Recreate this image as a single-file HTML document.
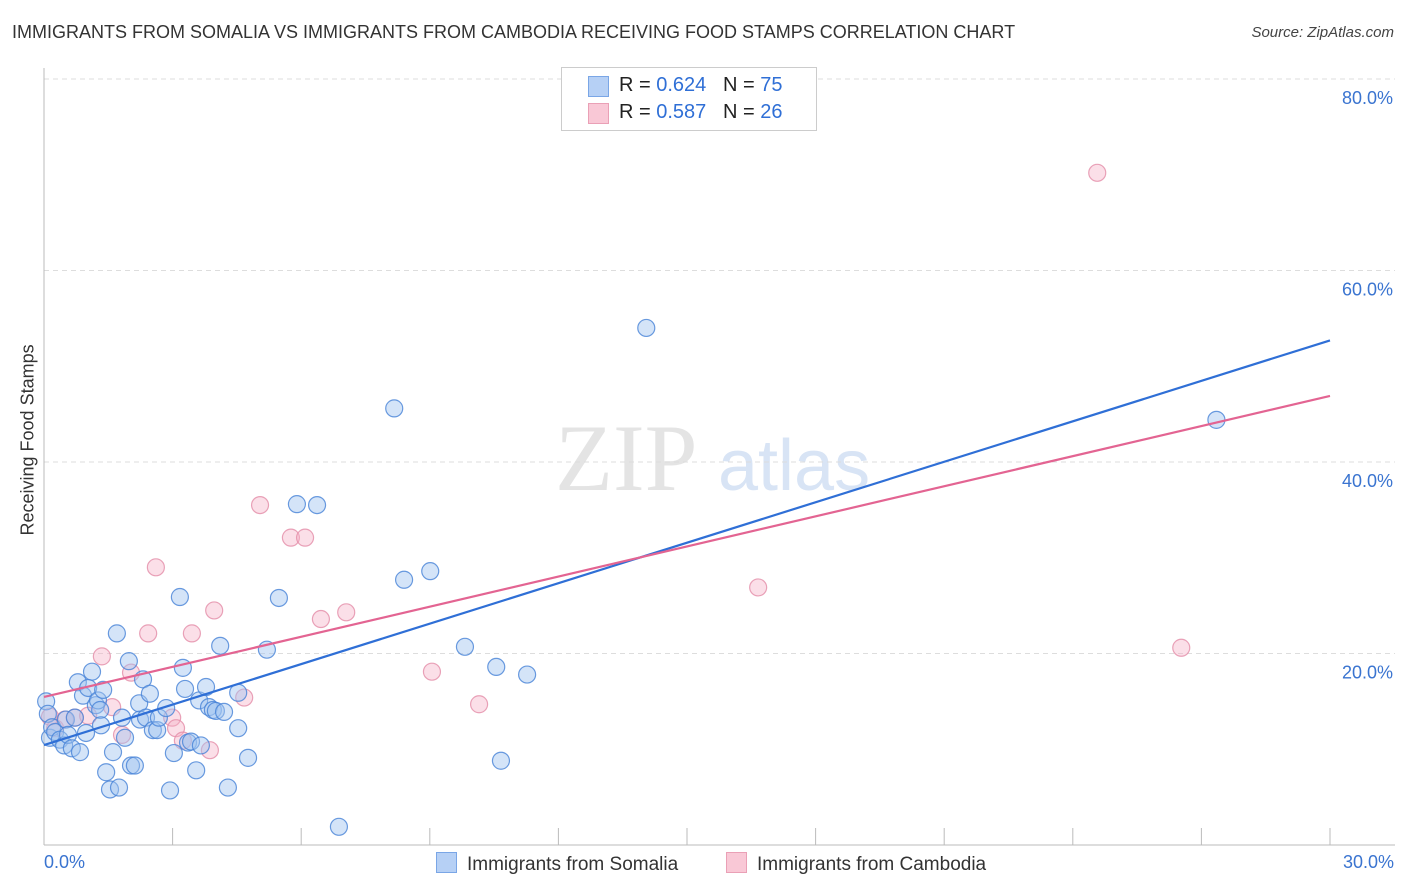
<!DOCTYPE html>
<html><head><meta charset="utf-8"><style>
body{margin:0;background:#fff;font-family:"Liberation Sans",sans-serif;}
#wrap{position:relative;width:1406px;height:892px;overflow:hidden;}
.t{position:absolute;white-space:nowrap;}
</style></head><body>
<div id="wrap">
<div class="t" style="left:12px;top:22px;font-size:18px;color:#333;">IMMIGRANTS FROM SOMALIA VS IMMIGRANTS FROM CAMBODIA RECEIVING FOOD STAMPS CORRELATION CHART</div>
<div class="t" style="right:12px;top:24px;font-size:15px;color:#444;font-style:italic;">Source: ZipAtlas.com</div>
<div class="t" style="left:-52px;top:445px;font-size:18px;color:#333;transform:rotate(-90deg);width:160px;text-align:center;">Receiving Food Stamps</div>
<svg id="svg" width="1406" height="892" style="position:absolute;left:0;top:0;"></svg>
<div class="t" style="left:561px;top:67px;width:254px;height:62px;border:1px solid #ccc;background:#fff;">
 <div style="position:absolute;left:26px;top:8px;width:19px;height:19px;background:#b6d0f5;border:1px solid #7aa6e6;"></div>
 <div style="position:absolute;left:57px;top:6px;font-size:20px;color:#222;">R = <span style="color:#2f6fd6">0.624</span>&nbsp;&nbsp;&nbsp;N = <span style="color:#2f6fd6">75</span></div>
 <div style="position:absolute;left:26px;top:35px;width:19px;height:19px;background:#f9c8d6;border:1px solid #eaa0b6;"></div>
 <div style="position:absolute;left:57px;top:33px;font-size:20px;color:#222;">R = <span style="color:#2f6fd6">0.587</span>&nbsp;&nbsp;&nbsp;N = <span style="color:#2f6fd6">26</span></div>
</div>
<div class="t" style="left:44px;top:852px;font-size:18px;color:#3a74d0;">0.0%</div>
<div class="t" style="right:12px;top:852px;font-size:18px;color:#3a74d0;">30.0%</div>
<div class="t" style="left:436px;top:852px;font-size:19px;color:#333;"><span style="display:inline-block;width:19px;height:19px;background:#b6d0f5;border:1px solid #7aa6e6;vertical-align:-3px;margin-right:10px;"></span>Immigrants from Somalia</div>
<div class="t" style="left:726px;top:852px;font-size:19px;color:#333;"><span style="display:inline-block;width:19px;height:19px;background:#f9c8d6;border:1px solid #eaa0b6;vertical-align:-3px;margin-right:10px;"></span>Immigrants from Cambodia</div>
</div>
<script>
const yTicks=[20,40,60,80];
const yTickLabels=["20.0%","40.0%","60.0%","80.0%"];
const xTicks=[0,3,6,9,12,15,18,21,24,27,30];
const somaliaX=[0.05,0.09,0.14,0.19,0.26,0.37,0.47,0.51,0.56,0.65,0.72,0.79,0.84,0.91,0.98,1.03,1.12,1.21,1.26,1.31,1.33,1.38,1.45,1.54,1.61,1.70,1.75,1.82,1.89,1.98,2.03,2.12,2.22,2.24,2.31,2.38,2.47,2.54,2.64,2.68,2.85,2.94,3.03,3.17,3.24,3.29,3.36,3.43,3.55,3.62,3.66,3.78,3.85,3.94,4.01,4.11,4.20,4.29,4.53,4.53,4.76,5.20,5.48,5.90,6.37,6.88,8.17,8.40,9.01,9.82,10.55,10.66,11.27,14.05,27.35];
const somaliaY=[15.0,13.7,11.2,12.3,11.8,11.0,10.4,13.1,11.5,10.1,13.3,17.0,9.7,15.6,11.7,16.4,18.1,14.6,15.1,14.1,12.5,16.2,7.6,5.8,9.7,22.1,6.0,13.3,11.2,19.2,8.3,8.3,14.8,13.1,17.3,13.3,15.8,12.0,12.0,13.3,14.3,5.7,9.6,25.9,18.5,16.3,10.7,10.8,7.8,15.1,10.4,16.5,14.4,14.1,14.0,20.8,13.9,6.0,15.9,12.2,9.1,20.4,25.8,35.6,35.5,1.9,45.6,27.7,28.6,20.7,18.6,8.8,17.8,54.0,44.4];
const cambodiaX=[0.14,0.26,0.49,0.72,1.03,1.35,1.59,1.82,2.03,2.43,2.61,2.99,3.08,3.24,3.45,3.87,3.97,4.67,5.04,5.76,6.09,6.46,7.05,9.05,10.15,16.66,24.57,26.53];
const cambodiaY=[13.4,12.2,13.1,13.3,13.5,19.7,14.4,11.5,18.0,22.1,29.0,13.3,12.2,10.9,22.1,9.9,24.5,15.4,35.5,32.1,32.1,23.6,24.3,18.1,14.7,26.9,70.2,20.6];
const somaliaTrend=[10.44,52.7];
const cambodiaTrend=[15.46,46.9];
const X0=44,X1=1330,Y0=845,PX_PER=9.575;
function sx(v){return X0+(v/30)*(X1-X0);}
function sy(v){return Y0-v*PX_PER;}
const svg=document.getElementById('svg');
const NS='http://www.w3.org/2000/svg';
function mk(tag,attrs){const e=document.createElementNS(NS,tag);for(const k in attrs)e.setAttribute(k,attrs[k]);svg.appendChild(e);return e;}
// watermark
let wm=mk('text',{x:555,y:490,'font-size':95,fill:'#e4e4e4','font-family':'Liberation Serif,serif'});wm.textContent='ZIP';


let wm2=mk('text',{x:718,y:490,'font-size':72,fill:'#d8e4f5','font-family':'Liberation Sans,sans-serif'});wm2.textContent='atlas';


yTicks.forEach((t,i)=>{
 const g=mk('line',{x1:X0,x2:1395,y1:sy(t),y2:sy(t),stroke:'#ddd','stroke-dasharray':'5,4'});
 
 
 const l=mk('text',{x:1393,y:sy(t)+25,'text-anchor':'end','font-size':18,fill:'#3a74d0','font-family':'Liberation Sans,sans-serif'});
 l.textContent=yTickLabels[i];
 
 
});
const ax=mk('line',{x1:X0,x2:X0,y1:68,y2:Y0,stroke:'#bbb'});


const bx=mk('line',{x1:X0,x2:1395,y1:Y0,y2:Y0,stroke:'#bbb'});


xTicks.forEach(t=>{
 const k=mk('line',{x1:sx(t),x2:sx(t),y1:828,y2:Y0,stroke:'#bbb'});
 
 
});
cambodiaX.forEach((x,i)=>{
 const c=mk('circle',{cx:sx(x),cy:sy(cambodiaY[i]),r:8.5,fill:'rgba(246,176,198,0.4)',stroke:'rgba(228,140,168,0.8)','stroke-width':1.2});
 
 
});
somaliaX.forEach((x,i)=>{
 const c=mk('circle',{cx:sx(x),cy:sy(somaliaY[i]),r:8.5,fill:'rgba(160,195,240,0.45)',stroke:'rgba(70,130,215,0.8)','stroke-width':1.2});
 
 
});
const lb=mk('line',{x1:sx(0),y1:sy(somaliaTrend[0]),x2:sx(30),y2:sy(somaliaTrend[1]),stroke:'#2f6fd6','stroke-width':2.2});


const lp=mk('line',{x1:sx(0),y1:sy(cambodiaTrend[0]),x2:sx(30),y2:sy(cambodiaTrend[1]),stroke:'#e36492','stroke-width':2.2});


</script>
</body></html>
